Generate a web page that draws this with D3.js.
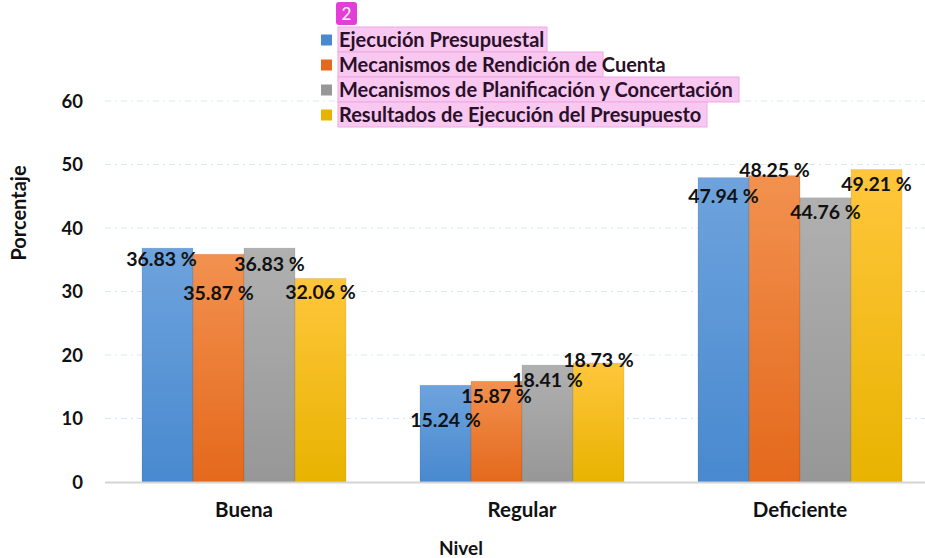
<!DOCTYPE html>
<html>
<head>
<meta charset="utf-8">
<script src="https://cdn.jsdelivr.net/npm/d3@7"></script>
<style>
  body { margin: 0; background: #fff; }
  text { font-family: Lato, "Open Sans", sans-serif; }
</style>
</head>
<body>
<div id="viz"></div>
<script>
var w = 925, h = 558;

var categories = ["Buena", "Regular", "Deficiente"];
var series = ["Ejecución Presupuestal", "Mecanismos de Rendición de Cuenta",
              "Mecanismos de Planificación y Concertación", "Resultados de Ejecución del Presupuesto"];
var ejecucion = [36.83, 15.24, 47.94];
var rendicion = [35.87, 15.87, 48.25];
var planificacion = [36.83, 18.41, 44.76];
var resultados = [32.06, 18.73, 49.21];
var yTicks = [0, 10, 20, 30, 40, 50, 60];

var values = [ejecucion, rendicion, planificacion, resultados];

// label nudges (px below the bar top), as placed in the original chart
var labelDy = [
    [11, 35, 18],
    [39, 15, -6],
    [16, 14.5, 14.5],
    [14, -3, 14.5]
];

var color = [
    ["#6ea3dd", "#4889cf"],
    ["#f2914f", "#e4691c"],
    ["#b0b0b0", "#979797"],
    ["#ffc63c", "#e8b300"]
];

var svg = d3.select("#viz").append("svg")
    .attr("width", w)
    .attr("height", h);

var defs = svg.append("defs");
color.forEach(function(c, i) {
    var g = defs.append("linearGradient")
        .attr("id", "grad" + i)
        .attr("x1", 0).attr("y1", 0).attr("x2", 0).attr("y2", 1);
    g.append("stop").attr("offset", "0%").attr("stop-color", c[0]);
    g.append("stop").attr("offset", "100%").attr("stop-color", c[1]);
});

var x0 = d3.scaleBand()
    .domain(categories)
    .range([105, 939])
    .paddingInner(0.266)
    .paddingOuter(0.133);

var x1 = d3.scaleBand()
    .domain(d3.range(series.length))
    .range([0, x0.bandwidth()]);

var y = d3.scaleLinear()
    .domain([0, 60])
    .range([482, 101]);

// grid lines
svg.append("g").selectAll("line")
    .data(yTicks.filter(function(d) { return d > 0; }))
    .enter().append("line")
    .attr("x1", 105).attr("x2", w)
    .attr("y1", function(d) { return y(d); })
    .attr("y2", function(d) { return y(d); })
    .attr("stroke", "#d9e6f4")
    .attr("stroke-width", 1)
    .attr("stroke-dasharray", "6,4,2,4");

// y tick labels
svg.append("g").selectAll("text")
    .data(yTicks)
    .enter().append("text")
    .attr("x", 83)
    .attr("y", function(d) { return y(d); })
    .attr("dy", "0.36em")
    .attr("text-anchor", "end")
    .attr("font-size", 18.5)
    .attr("font-weight", "bold")
    .attr("fill", "#111")
    .text(function(d) { return d; });

// bars
var group = svg.append("g").selectAll("g")
    .data(categories)
    .enter().append("g")
    .attr("transform", function(d) { return "translate(" + x0(d) + ",0)"; });

group.selectAll("rect")
    .data(function(d, ci) { return values.map(function(v, si) { return { s: si, c: ci, v: v[ci] }; }); })
    .enter().append("rect")
    .attr("x", function(d) { return x1(d.s); })
    .attr("width", x1.bandwidth())
    .attr("y", function(d) { return y(d.v); })
    .attr("height", function(d) { return y(0) - y(d.v); })
    .attr("fill", function(d) { return "url(#grad" + d.s + ")"; })
    .attr("stroke", "rgba(0,0,0,0.08)")
    .attr("stroke-width", 1);

// x axis line
svg.append("line")
    .attr("x1", 105).attr("x2", w)
    .attr("y1", y(0) + 0.5).attr("y2", y(0) + 0.5)
    .attr("stroke", "#d4d4d4")
    .attr("stroke-width", 2);

// value labels
group.selectAll("text.val")
    .data(function(d, ci) { return values.map(function(v, si) { return { s: si, c: ci, v: v[ci] }; }); })
    .enter().append("text")
    .attr("class", "val")
    .attr("x", function(d) { return x1(d.s) + x1.bandwidth() / 2 + (d.s === 0 && d.c === 0 ? -6 : 0); })
    .attr("y", function(d) { return y(d.v) + labelDy[d.s][d.c]; })
    .attr("dy", "0.36em")
    .attr("text-anchor", "middle")
    .attr("font-size", 19.5)
    .attr("font-weight", "bold")
    .attr("fill", "#111")
    .text(function(d) { return d.v.toFixed(2) + " %"; });

// category labels
svg.append("g").selectAll("text")
    .data(categories)
    .enter().append("text")
    .attr("x", function(d) { return x0(d) + x0.bandwidth() / 2; })
    .attr("y", 510)
    .attr("dy", "0.36em")
    .attr("text-anchor", "middle")
    .attr("font-size", 20.5)
    .attr("font-weight", "bold")
    .attr("fill", "#111")
    .text(function(d) { return d; });

// axis titles
svg.append("text")
    .attr("x", 461).attr("y", 548)
    .attr("dy", "0.36em")
    .attr("text-anchor", "middle")
    .attr("font-size", 19)
    .attr("font-weight", "bold")
    .attr("fill", "#111")
    .text("Nivel");

svg.append("text")
    .attr("transform", "translate(19,213) rotate(-90)")
    .attr("dy", "0.36em")
    .attr("text-anchor", "middle")
    .attr("font-size", 20)
    .attr("font-weight", "bold")
    .attr("fill", "#111")
    .text("Porcentaje");

// legend
var legend = svg.append("g");
var hlWidth = [209, 265, 401, 369];

var row = legend.selectAll("g")
    .data(series)
    .enter().append("g")
    .attr("transform", function(d, i) { return "translate(0," + (39.5 + i * 25) + ")"; });

row.append("rect")
    .attr("x", 338).attr("y", -12.5)
    .attr("width", function(d, i) { return hlWidth[i]; })
    .attr("height", 25)
    .attr("fill", "#f8c8f1")
    .attr("stroke", "#f0a8e6")
    .attr("stroke-width", 1);

row.append("rect")
    .attr("x", 321).attr("y", -5)
    .attr("width", 11).attr("height", 11)
    .attr("fill", function(d, i) { return color[i][1]; });

row.append("text")
    .attr("x", 339)
    .attr("dy", "0.36em")
    .attr("font-size", 20)
    .attr("font-weight", "bold")
    .attr("fill", "#2a1028")
    .text(function(d) { return d; });

// badge
svg.append("rect")
    .attr("x", 336).attr("y", 2)
    .attr("width", 21).attr("height", 23)
    .attr("rx", 3)
    .attr("fill", "#e23fd6");
svg.append("text")
    .attr("x", 346.5).attr("y", 14)
    .attr("dy", "0.36em")
    .attr("text-anchor", "middle")
    .attr("font-size", 17)
    .attr("fill", "#fff")
    .text("2");
</script>
</body>
</html>
